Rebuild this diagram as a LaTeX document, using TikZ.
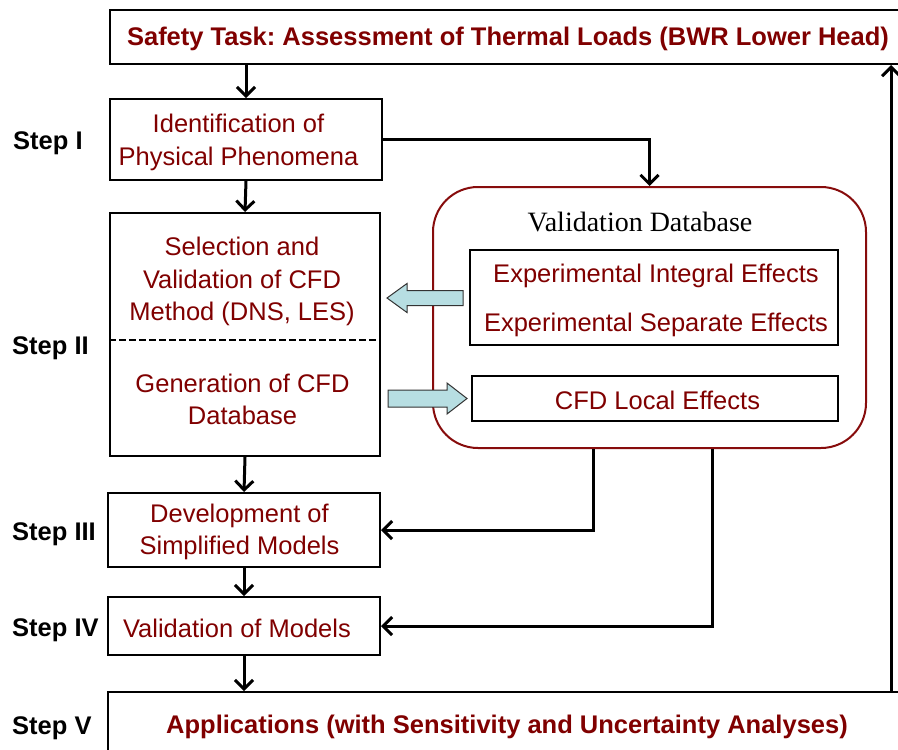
\documentclass[tikz,border=0pt]{standalone}
\usepackage{fontspec}
\setmainfont{Liberation Sans}
\newfontfamily\timesfont{Liberation Serif}
\usetikzlibrary{arrows.meta,calc}
\definecolor{dred}{RGB}{128,0,0}
\definecolor{boxred}{RGB}{135,12,12}
\definecolor{aqua}{RGB}{183,222,226}
\tikzset{
  box/.style={draw=black, line width=2pt, inner sep=0pt, align=center,
    text=dred, font=\fontsize{25.5}{32.5}\selectfont},
  steplabel/.style={anchor=west, inner sep=0pt, font=\fontsize{25.5}{30}\selectfont\bfseries},
  arr/.style={line width=3pt, -{Straight Barb[length=9pt,width=18pt]}},
  blockarrow/.style={draw=black!80, line width=1pt, fill=aqua, line join=miter},
  redtext/.style={text=dred, inner sep=0pt, align=center, font=\fontsize{25.5}{32.5}\selectfont},
  redbold/.style={redtext, font=\fontsize{25.5}{32.5}\selectfont\bfseries}
}
\frenchspacing
\begin{document}
\begin{tikzpicture}[x=1pt,y=-1pt]
\useasboundingbox (0,0) rectangle (898,750);
\clip (0,0) rectangle (898,750);
\fill[white] (0,0) rectangle (898,750);

% main column
\node[box, minimum width=800pt, minimum height=54pt] (top) at (510,37) {};
\node[redbold] (toptext) at (508,39)
  {Safety Task: Assessment of Thermal Loads (BWR Lower Head)};
\node[box, minimum width=272pt, minimum height=81pt] (ident) at (246,139.5) {};
\node[redtext] (identtext) at (238.5,142.5) {Identification of\\Physical Phenomena};
\node[box, minimum width=270pt, minimum height=243pt] (big) at (245,334.5) {};
\node[redtext] (sel) at (242,281.5) {Selection and\\Validation of CFD\\Method (DNS, LES)};
\node[redtext] (gen) at (242.5,399.5) {Generation of CFD\\Database};
\coordinate (dl) at (0,340);
\draw[line width=2pt, dash pattern=on 6.5pt off 3.5pt] (big.west |- dl) -- (big.east |- dl);
\node[box, minimum width=272pt, minimum height=74pt] (dev) at (244,530) {};
\node[redtext] (devtext) at (239.5,532) {Development of\\Simplified Models};
\node[box, minimum width=272pt, minimum height=58pt] (valm) at (244,626) {};
\node[redtext] (valmtext) at (237,628) {Validation of Models};
\node[box, minimum width=812pt, minimum height=78pt] (app) at (514,731) {};
\node[redbold] (apptext) at (507,727)
  {Applications (with Sensitivity and Uncertainty Analyses)};

% validation database
\node[draw=boxred, line width=2pt, rounded corners=45pt, minimum width=433pt,
  minimum height=261pt, inner sep=0pt] (vdb) at (649.5,317.5) {};
\node[inner sep=0pt, font=\fontsize{28}{32}\timesfont] (vdbtitle) at (640,222) {Validation Database};
\node[box, minimum width=368pt, minimum height=95pt] (exp) at (654,297.5) {};
\node[redtext] (exptext) at (656,300.5)
  {Experimental Integral Effects\\[16pt]Experimental Separate Effects};
\node[box, minimum width=366pt, minimum height=45pt] (cfd) at (655,398.5) {};
\node[redtext] (cfdtext) at (657.5,400) {CFD Local Effects};

% step labels
\node[steplabel] (s1) at (13,143) {Step I};
\node[steplabel] (s2) at (12,348) {Step II};
\node[steplabel] (s3) at (12,534) {Step III};
\node[steplabel] (s4) at (12,630) {Step IV};
\node[steplabel] (s5) at (12,728) {Step V};

% connectors
\draw[arr] (ident.north |- top.south) -- (ident.north);
\draw[arr] (ident.east) -| (vdb.north);
\draw[arr] (ident.south) -- (big.north);
\draw[arr] (big.south) -- (dev.north);
\draw[arr] (dev.south) -- (valm.north);
\draw[arr] (valm.south) -- (valm.south |- app.north);
\coordinate (c1) at (593,0);
\coordinate (c2) at (712,0);
\coordinate (c3) at (891,0);
\draw[arr] (vdb.south -| c1) |- (dev.east);
\draw[arr] (vdb.south -| c2) |- (valm.east);
\draw[arr] (app.north -| c3) -- (top.south -| c3);

% block arrows between the database and the CFD column
\draw[blockarrow] (463,290.5) -- (407,290.5) -- (407,283.5) -- (387,298)
  -- (407,312.5) -- (407,305.5) -- (463,305.5) -- cycle;
\draw[blockarrow] (388,390) -- (447,390) -- (447,383) -- (467,398.5)
  -- (447,414) -- (447,407) -- (388,407) -- cycle;
\end{tikzpicture}
\end{document}
